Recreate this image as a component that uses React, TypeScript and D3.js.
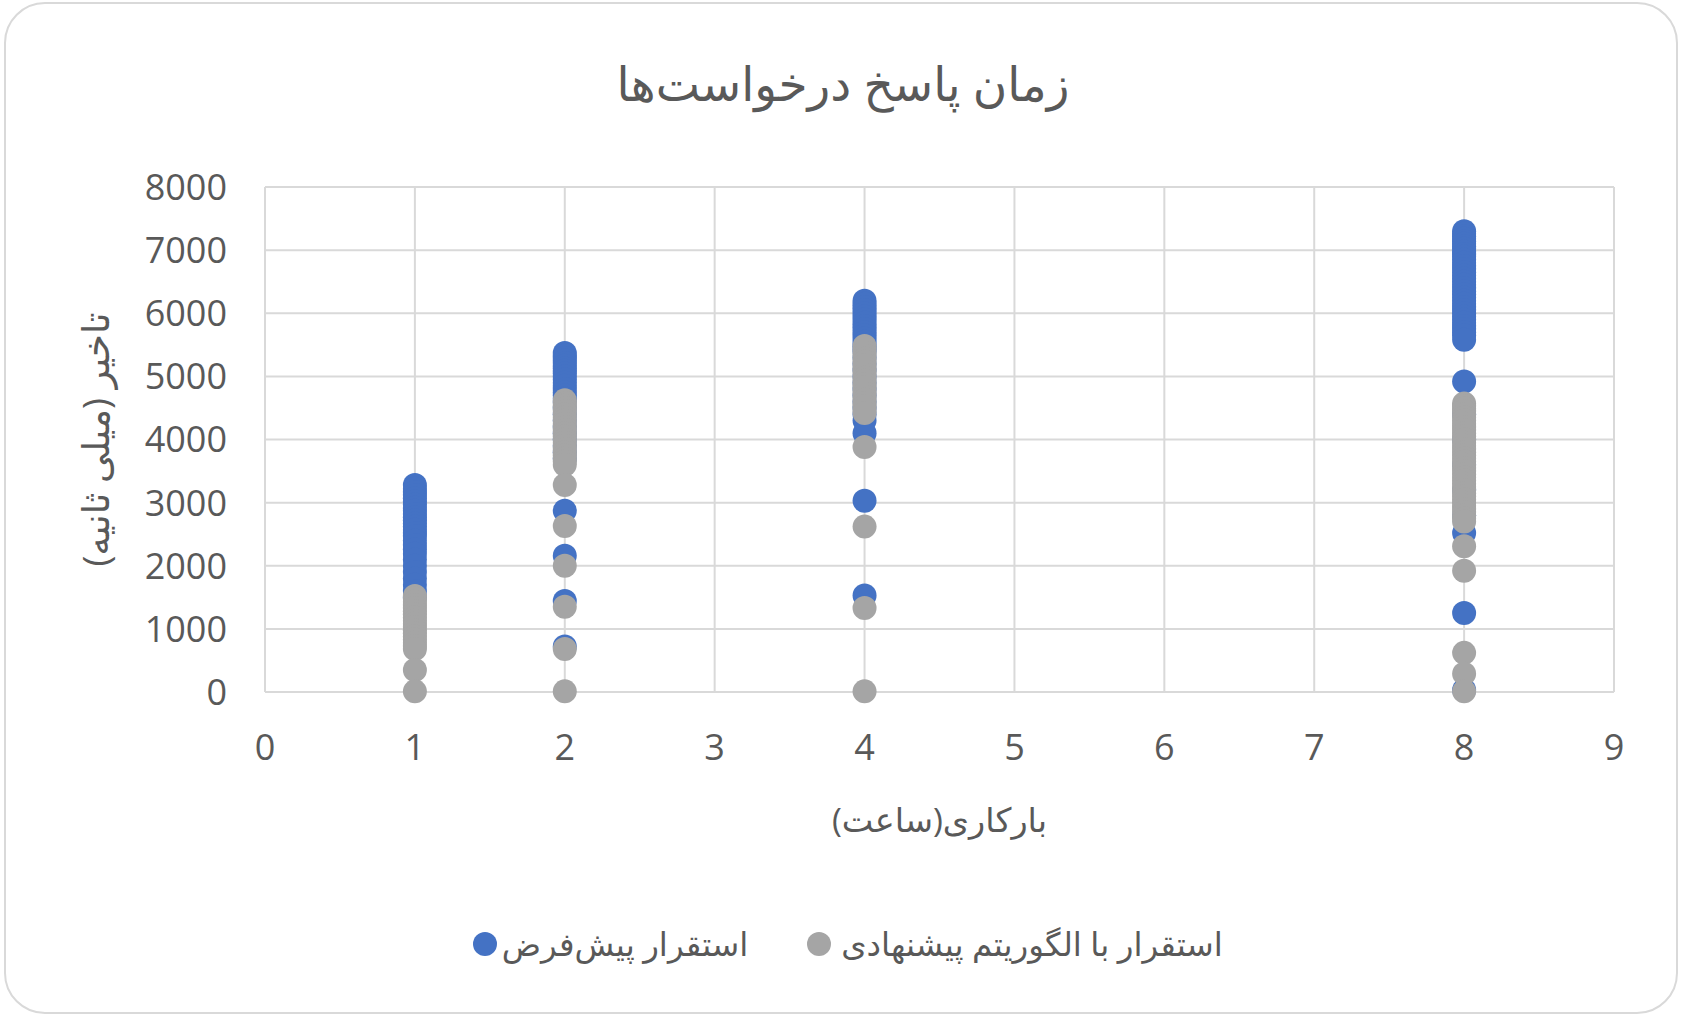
import React, { useEffect } from "react";
import * as d3 from "d3";

// hours of workload on the x axis
const hours = [1, 2, 4, 8];

// latency (ms) for default deployment, one list per hour
const defaultAt1 = [3280, 3220, 3170, 3120, 3070, 3020, 2970, 2920, 2870, 2820, 2770, 2720, 2670, 2620, 2570, 2520, 2470, 2400, 2330, 2260, 2190, 2100, 2000, 1900, 1800, 1700, 1600, 1500];
const defaultAt2 = [5370, 5330, 5290, 5250, 5210, 5170, 5130, 5090, 5050, 5000, 4950, 4900, 4850, 4800, 4750, 4700, 4650, 4600, 4500, 4400, 4300, 4200, 4100, 4000, 3900, 3800, 3700, 2870, 2160, 1440, 720];
const defaultAt4 = [6200, 6150, 6100, 6050, 6000, 5950, 5900, 5850, 5800, 5750, 5700, 5650, 5600, 5550, 5500, 5450, 5400, 5300, 5200, 5100, 5000, 4900, 4800, 4700, 4600, 4500, 4400, 4300, 4100, 3030, 1530];
const defaultAt8 = [7300, 7260, 7220, 7180, 7140, 7100, 7060, 7020, 6980, 6940, 6900, 6850, 6800, 6750, 6700, 6650, 6600, 6550, 6500, 6450, 6400, 6350, 6300, 6250, 6200, 6150, 6100, 6050, 6000, 5950, 5900, 5850, 5800, 5750, 5700, 5650, 5580, 4920, 4400, 4000, 3600, 3200, 2800, 2520, 1250, 30];

// latency (ms) with the proposed algorithm
const proposedAt1 = [1520, 1480, 1430, 1380, 1330, 1280, 1230, 1180, 1130, 1080, 1030, 980, 930, 880, 830, 780, 730, 680, 350, 10];
const proposedAt2 = [4620, 4580, 4540, 4500, 4450, 4400, 4350, 4300, 4250, 4200, 4150, 4100, 4050, 4000, 3950, 3900, 3850, 3800, 3750, 3700, 3650, 3600, 3280, 2630, 2000, 1350, 680, 10];
const proposedAt4 = [5480, 5430, 5380, 5330, 5280, 5230, 5180, 5130, 5080, 5030, 4980, 4930, 4880, 4830, 4780, 4730, 4680, 4630, 4580, 4530, 4480, 4420, 3880, 2620, 1330, 10];
const proposedAt8 = [4570, 4530, 4490, 4450, 4400, 4350, 4300, 4250, 4200, 4150, 4100, 4050, 4000, 3950, 3900, 3850, 3800, 3750, 3700, 3650, 3600, 3550, 3500, 3450, 3400, 3350, 3300, 3250, 3200, 3150, 3100, 3050, 3000, 2950, 2900, 2850, 2800, 2750, 2700, 2310, 1920, 620, 290, 10];

const xTicks = [0, 1, 2, 3, 4, 5, 6, 7, 8, 9];
const yTicks = [0, 1000, 2000, 3000, 4000, 5000, 6000, 7000, 8000];

const title = "زمان پاسخ درخواست‌ها";
const xTitle = "بارکاری(ساعت)";
const yTitle = "تاخیر (میلی ثانیه)";
const defaultName = "استقرار پیش‌فرض";
const proposedName = "استقرار با الگوریتم پیشنهادی";

const blue = "#4472C4";
const gray = "#A5A5A5";
const grid = "#D9D9D9";
const ink = "#595959";
const font = "'Open Sans', 'DejaVu Sans', sans-serif";

const toPoints = (lists: number[][]) =>
  lists.flatMap((vals, i) => vals.map((v) => ({ x: hours[i], y: v })));

const defaultPts = toPoints([defaultAt1, defaultAt2, defaultAt4, defaultAt8]);
const proposedPts = toPoints([proposedAt1, proposedAt2, proposedAt4, proposedAt8]);

export default function App() {
  useEffect(() => {
    document.body.style.margin = "0";
    document.body.style.overflow = "hidden";
  }, []);

  const width = 1686;
  const height = 1022;
  const margin = { top: 187, right: 72, bottom: 330, left: 265 };

  const x = d3.scaleLinear().domain([0, 9]).range([margin.left, width - margin.right]);
  const y = d3.scaleLinear().domain([0, 8000]).range([height - margin.bottom, margin.top]);
  const r = 12;

  return (
    <svg width={width} height={height} style={{ position: "absolute", left: 0, top: 0 }} fontFamily={font}>
      <rect x={5} y={3} width={1672} height={1010} rx={40} fill="#fff" stroke={grid} strokeWidth={2} />

      <text x={843} y={101} textAnchor="middle" fontSize={47} fill={ink}>{title}</text>

      {yTicks.map((t) => (
        <line key={"gy" + t} x1={x(0)} x2={x(9)} y1={y(t)} y2={y(t)} stroke={grid} strokeWidth={2} />
      ))}
      {xTicks.map((t) => (
        <line key={"gx" + t} x1={x(t)} x2={x(t)} y1={y(0)} y2={y(8000)} stroke={grid} strokeWidth={2} />
      ))}

      {yTicks.map((t) => (
        <text key={"ly" + t} x={x(0) - 38} y={y(t)} dy="0.36em" textAnchor="end" fontSize={36} fill={ink}>{t}</text>
      ))}
      {xTicks.map((t) => (
        <text key={"lx" + t} x={x(t)} y={y(0) + 55} dy="0.36em" textAnchor="middle" fontSize={36} fill={ink}>{t}</text>
      ))}

      <text x={(x(0) + x(9)) / 2} y={832} textAnchor="middle" fontSize={33.5} fill={ink}>{xTitle}</text>
      <text transform={`translate(109, ${(y(0) + y(8000)) / 2}) rotate(-90)`} textAnchor="middle" fontSize={37} fill={ink}>{yTitle}</text>

      <g>
        {defaultPts.map((p, i) => (
          <circle key={"d" + i} cx={x(p.x)} cy={y(p.y)} r={r} fill={blue} />
        ))}
      </g>
      <g>
        {proposedPts.map((p, i) => (
          <circle key={"p" + i} cx={x(p.x)} cy={y(p.y)} r={r} fill={gray} />
        ))}
      </g>

      <circle cx={485} cy={944} r={12} fill={blue} />
      <text x={625} y={944} dy="0.36em" textAnchor="middle" fontSize={32.5} fill={ink}>{defaultName}</text>
      <circle cx={819} cy={944} r={12} fill={gray} />
      <text x={1032} y={944} dy="0.36em" textAnchor="middle" fontSize={32.5} fill={ink}>{proposedName}</text>
    </svg>
  );
}
